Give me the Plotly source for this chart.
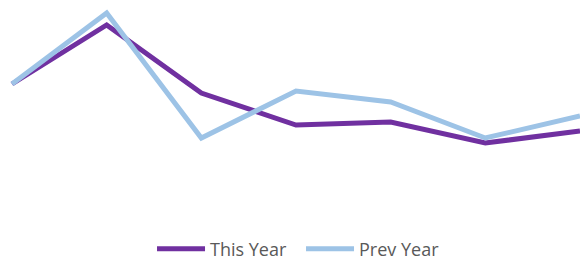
import plotly.graph_objects as go

categories = [1, 2, 3, 4, 5, 6, 7]
this_year = [137, 196, 128, 96, 99, 78, 90]
prev_year = [137, 208, 83, 130, 119, 83, 105]

fig = go.Figure()
fig.add_trace(go.Scatter(x=categories, y=this_year, mode="lines", name="This Year",
                         line=dict(color="#7030A0", width=5)))
fig.add_trace(go.Scatter(x=categories, y=prev_year, mode="lines", name="Prev Year",
                         line=dict(color="#9DC3E6", width=5)))

fig.update_layout(
    width=580, height=260,
    margin=dict(l=0, r=0, t=0, b=40),
    paper_bgcolor="white", plot_bgcolor="white",
    xaxis=dict(visible=False, range=[1 - 12 / 94.7, 7]),
    yaxis=dict(visible=False, range=[1, 221]),
    showlegend=True,
    legend=dict(orientation="h", x=0.519, xanchor="center",
                yref="container", y=11 / 260, yanchor="middle",
                font=dict(family="Open Sans", size=18, color="#595959"),
                itemwidth=48, tracegroupgap=0, entrywidth=86, entrywidthmode="pixels"),
)
fig.write_html("out.html", post_script="document.body.style.margin='0';",
               config={"displayModeBar": False})
